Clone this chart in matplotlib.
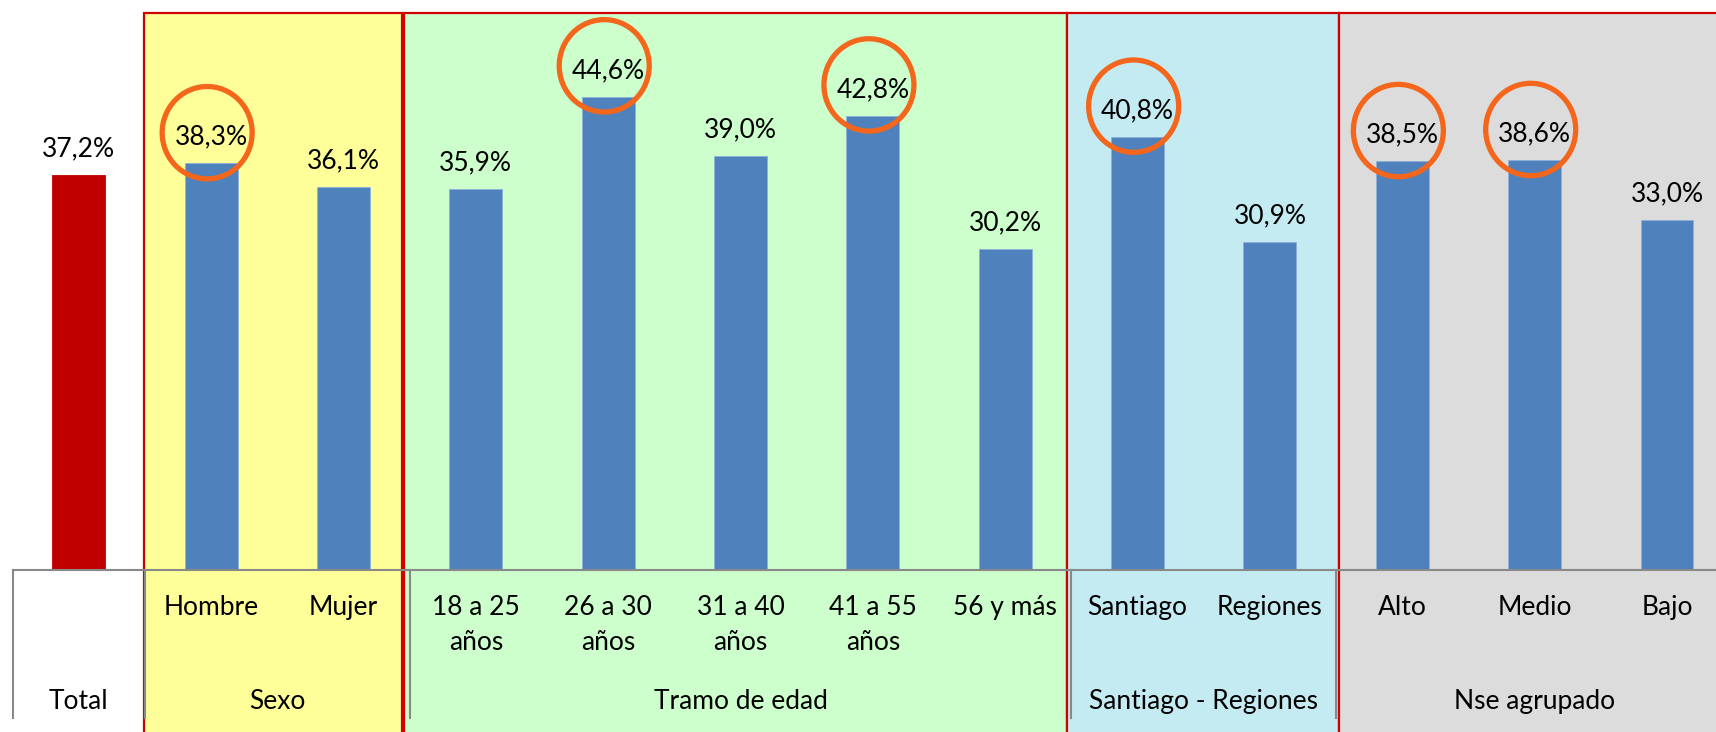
import matplotlib.pyplot as plt
from matplotlib.patches import Rectangle, Ellipse

plt.rcParams['font.family'] = ['Lato', 'DejaVu Sans']

categories = ['', 'Hombre', 'Mujer', '18 a 25\naños', '26 a 30\naños', '31 a 40\naños',
              '41 a 55\naños', '56 y más', 'Santiago', 'Regiones', 'Alto', 'Medio', 'Bajo']
values = [37.2, 38.3, 36.1, 35.9, 44.6, 39.0, 42.8, 30.2, 40.8, 30.9, 38.5, 38.6, 33.0]
groups = ['Total', 'Sexo', 'Tramo de edad', 'Santiago - Regiones', 'Nse agrupado']
group_sizes = [1, 2, 5, 2, 3]
highlighted = [1, 4, 6, 8, 10, 11]

# coloured panels behind the groups (x from, x to, colour)
panels = [(0.49, 2.44, '#FFFF99'), (2.46, 7.47, '#CCFFCC'),
          (7.47, 9.52, '#C5EBF2'), (9.52, 13.5, '#DCDCDC')]

fig = plt.figure(figsize=(17.16, 7.32), dpi=100)
ax = fig.add_axes([12.6 / 1716, 162 / 732, 1 - 12.6 / 1716, 570 / 732])
ax.set_xlim(-0.5, 12.37)
ax.set_ylim(0, 53.7)
ax.axis('off')

for x0, x1, col in panels:
    ax.add_patch(Rectangle((x0, -16), x1 - x0, 16 + 52.45, facecolor=col,
                           edgecolor='#D00000', linewidth=1.6, clip_on=False, zorder=0))

x = list(range(len(values)))
colors = ['#C00000'] + ['#4F81BD'] * (len(values) - 1)
bars = ax.bar(x, values, width=0.4, color=colors, edgecolor='#8EB0DA', linewidth=0.6, zorder=2)
bars[0].set_edgecolor('#C00000')

for xi, v in zip(x, values):
    ax.annotate(f'{v:.1f}%'.replace('.', ','), (xi, v), xytext=(0, 13.5),
                textcoords='offset points', ha='center', va='baseline', fontsize=19, zorder=4)

for i in highlighted:
    ax.add_patch(Ellipse((i - 0.03, values[i] + 2.9), 0.68, 8.7, fill=False,
                         edgecolor='#F4661B', linewidth=3.8, zorder=5))

# axis line and multi level separators
ax.plot([-0.5, 13], [0, 0], color='#898989', linewidth=1.5, clip_on=False, zorder=3)
start = -0.5
bounds = [start]
for n in group_sizes:
    start += n
    bounds.append(start)
for b in bounds[:-1]:
    ax.plot([b, b], [0, -13.9], color='#898989', linewidth=1.5, clip_on=False, zorder=3)

for xi, lab in zip(x, categories):
    ax.text(xi, -2.35, lab, ha='center', va='top', fontsize=19, linespacing=1.52)

for g, lo, hi in zip(groups, bounds[:-1], bounds[1:]):
    ax.text((lo + hi) / 2, -12.4, g, ha='center', va='center', fontsize=19)

plt.savefig('out.png', dpi=100)
